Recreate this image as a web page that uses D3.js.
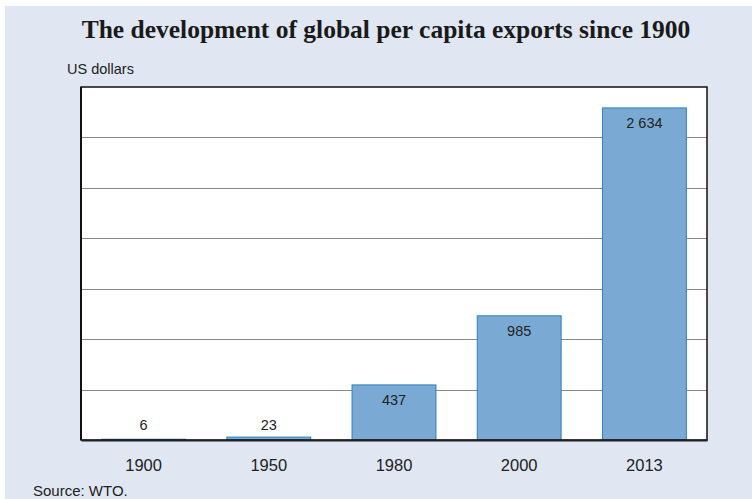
<!DOCTYPE html>
<html><head><meta charset="utf-8">
<script src="https://cdn.jsdelivr.net/npm/d3@7"></script>
<style>body{margin:0;background:#fff}svg{display:block}</style>
</head><body>
<svg id="c" width="752" height="499"></svg>
<script>
const categories = ["1900","1950","1980","2000","2013"];
const values = [6, 23, 437, 985, 2634];
const labels = ["6","23","437","985","2 634"];
const gridTicks = [400, 800, 1200, 1600, 2000, 2400];

const svg = d3.select("#c");
svg.append("rect").attr("x",5).attr("y",6).attr("width",747).attr("height",493).attr("fill","#e0e7f3");

const L=81, R=707, T=87, B=440;
const x = d3.scaleBand().domain(categories).range([L,R]).paddingInner(0.33).paddingOuter(0.165);
const y = d3.scaleLinear().domain([0,2800]).range([B,T]);

svg.append("rect").attr("x",L).attr("y",T).attr("width",R-L).attr("height",B-T).attr("fill","#fff");

svg.append("g").selectAll("line").data(gridTicks).join("line")
  .attr("x1",L).attr("x2",R).attr("y1",d=>Math.round(y(d))+0.5).attr("y2",d=>Math.round(y(d))+0.5)
  .attr("stroke","#8a8a8a").attr("stroke-width",1);

svg.append("g").selectAll("rect").data(values).join("rect")
  .attr("x",(d,i)=>x(categories[i])).attr("width",x.bandwidth())
  .attr("y",d=>y(d)).attr("height",d=>B-y(d))
  .attr("fill","#7aaad4").attr("stroke","#2b7fc0").attr("stroke-width",1);

svg.append("g").selectAll("text").data(values).join("text")
  .attr("x",(d,i)=>x(categories[i])+x.bandwidth()/2)
  .attr("y",d=> (B-y(d))>40 ? y(d)+20 : B-10)
  .attr("text-anchor","middle").attr("font-family","Liberation Sans, Arial, sans-serif")
  .attr("font-size",14.5).attr("fill","#222").text((d,i)=>labels[i]);

// border
svg.append("rect").attr("x",L).attr("y",T).attr("width",R-L).attr("height",B-T)
  .attr("fill","none").attr("stroke","#111").attr("stroke-width",1.5);
svg.append("line").attr("x1",L).attr("x2",L).attr("y1",T).attr("y2",B).attr("stroke","#111").attr("stroke-width",2);

const xAxis = svg.append("g").attr("transform",`translate(0,${B})`)
  .call(d3.axisBottom(x).tickSize(0).tickPadding(19));
xAxis.select(".domain").attr("stroke","#222").attr("stroke-width",2);
xAxis.selectAll("text").attr("font-family","Liberation Sans, Arial, sans-serif").attr("font-size",16.5).attr("fill","#222");

svg.append("text").attr("x",386).attr("y",38).attr("text-anchor","middle")
  .attr("font-family","Liberation Serif, Times New Roman, serif").attr("font-weight","bold")
  .attr("font-size",25.5).attr("fill","#1a1a1a").text("The development of global per capita exports since 1900");
svg.append("text").attr("x",67).attr("y",74).attr("font-family","Liberation Sans, Arial, sans-serif")
  .attr("font-size",14.5).attr("fill","#222").text("US dollars");
svg.append("text").attr("x",33).attr("y",496).attr("font-family","Liberation Sans, Arial, sans-serif")
  .attr("font-size",15).attr("fill","#222").text("Source: WTO.");
</script>
</body></html>
